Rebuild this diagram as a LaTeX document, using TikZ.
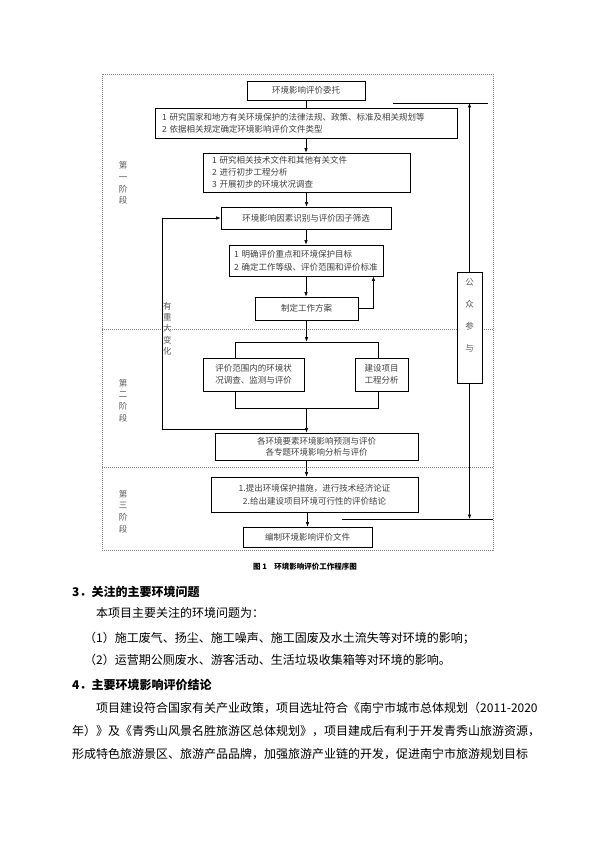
\documentclass[tikz,border=0pt]{standalone}
\usepackage{fontspec}
\setmainfont{Noto Sans CJK SC}
\usetikzlibrary{arrows.meta}
\begin{document}
\begin{tikzpicture}[x=1pt,y=-1pt,
  box/.style={draw,line width=.9pt,fill=white,text=black!75,font=\fontsize{8.5}{12}\selectfont,align=center,inner sep=0pt},
  arr/.style={-{Latex[length=4.5pt,width=3.5pt]},line width=.6pt},
  ln/.style={line width=.6pt},
  sep/.style={gray,dash pattern=on 1.2pt off .8pt,line width=.6pt},
  lbl/.style={text=black!65,font=\fontsize{8.5}{12}\selectfont,align=center,inner sep=0pt},
  body/.style={anchor=west,inner sep=0pt,font=\fontsize{12}{14}\selectfont},
  head/.style={anchor=west,inner sep=0pt,font=\fontsize{12}{14}\selectfont\bfseries}]
\useasboundingbox (0,0) rectangle (595,842);
\draw[sep] (102,74) rectangle (493,550);
\draw[sep] (102,329) -- (493,329);
\draw[sep] (102,467) -- (493,467);
\node[box,minimum width=118pt,minimum height=19pt] (wt) at (306,90.5) {环境影响评价委托};
\node[box,minimum height=30pt,text width=288pt,inner xsep=7pt,align=left] (fg) at (306,123) {1 研究国家和地方有关环境保护的法律法规、政策、标准及相关规划等\\2 依据相关规定确定环境影响评价文件类型};
\node[box,minimum height=39pt,text width=189pt,inner xsep=9pt,align=left] (cb) at (306.5,172.5) {1 研究相关技术文件和其他有关文件\\2 进行初步工程分析\\3 开展初步的环境状况调查};
\node[box,minimum width=170pt,minimum height=22pt] (sb) at (306,218) {环境影响因素识别与评价因子筛选};
\node[box,minimum height=31pt,text width=144pt,inner xsep=5pt,align=left,font=\fontsize{8.5}{13}\selectfont] (mq) at (306,260.5) {1~明确评价重点和环境保护目标\\2~确定工作等级、评价范围和评价标准};
\node[box,minimum width=103pt,minimum height=23pt] (fa) at (306.5,308.5) {制定工作方案};
\node[draw,ln,minimum width=143pt,minimum height=66pt,inner sep=0pt] (kj) at (306.5,375) {};
\node[box,minimum width=101pt,minimum height=33pt] (xz) at (253.5,374.5) {评价范围内的环境状\\况调查、监测与评价};
\node[box,minimum width=53pt,minimum height=33pt] (gc) at (381.5,374.5) {建设项目\\工程分析};
\node[box,minimum width=203pt,minimum height=27pt,font=\fontsize{8.5}{11}\selectfont] (yc) at (316.5,446.5) {各环境要素环境影响预测与评价\\各专题环境影响分析与评价};
\node[box,minimum width=207pt,minimum height=35pt,font=\fontsize{8.5}{13}\selectfont] (cs) at (314.5,494.5) {1.提出环境保护措施，进行技术经济论证\\2.给出建设项目环境可行性的评价结论};
\node[box,minimum width=129pt,minimum height=20pt] (bz) at (307.5,537) {编制环境影响评价文件};
\node[box,minimum width=25pt,minimum height=111pt] (gz) at (469.5,327.5) {};
\node[lbl,font=\fontsize{8.5}{22}\selectfont] (gzt) at (469.5,315) {公\\众\\参\\与};
\draw[ln] (wt.south) -- (fg.north);
\draw[arr] (fg.south) -- (fg.south |- cb.north);
\draw[arr] (cb.south) -- (cb.south |- sb.north);
\draw[arr] (sb.south) -- (mq.north);
\draw[arr] (mq.south) -- (mq.south |- fa.north);
\draw[arr] (fa.east) -| ([xshift=-10pt]mq.south east);
\draw[arr] (fa.south) -- (fa.south |- kj.north);
\coordinate (bd) at (162,429);
\draw[arr] (bd) |- (sb.west);
\draw[ln] (bd) -- (bd -| kj.south);
\draw[arr] (kj.south) -- (kj.south |- yc.north);
\draw[arr] (yc.south -| kj.south) -- (kj.south |- cs.north);
\draw[arr] (cs.south -| bz.north) -- (bz.north);
\coordinate (gl) at (393,103);
\coordinate (gr) at (488,103);
\draw[ln] (gl) -- (gr);
\draw[arr] (gz.north) -- (gz.north |- gl);
\coordinate (dl) at (342,519);
\coordinate (dr) at (493,519);
\draw[ln] (dl) -- (dr);
\draw[arr] (gz.south) -- (gz.south |- dl);
\node[lbl,font=\fontsize{8.5}{11.7}\selectfont] (s1) at (123,183) {第\\一\\阶\\段};
\node[lbl,font=\fontsize{8.5}{11.7}\selectfont] (s2) at (123,400.5) {第\\二\\阶\\段};
\node[lbl,font=\fontsize{8.5}{11.7}\selectfont] (s3) at (123,511.5) {第\\三\\阶\\段};
\node[lbl,anchor=west,font=\fontsize{8.5}{11.3}\selectfont] (zb) at (163,328.5) {有\\重\\大\\变\\化};
\node[font=\fontsize{7.5}{9}\selectfont\bfseries,inner sep=0pt] (tt) at (305,567) {图 1\quad 环境影响评价工作程序图};
\node[head] (h3) at (72,592) {3．关注的主要环境问题};
\node[body] (p0) at (96,613) {本项目主要关注的环境问题为：};
\node[body] (p1) at (84,638) {（1）施工废气、扬尘、施工噪声、施工固废及水土流失等对环境的影响；};
\node[body] (p2) at (84,660) {（2）运营期公厕废水、游客活动、生活垃圾收集箱等对环境的影响。};
\node[head] (h4) at (72,685) {4．主要环境影响评价结论};
\node[body] (q1) at (96,708) {项目建设符合国家有关产业政策，项目选址符合《南宁市城市总体规划（2011-2020};
\node[body] (q2) at (72,731) {年）》及《青秀山风景名胜旅游区总体规划》，项目建成后有利于开发青秀山旅游资源，};
\node[body] (q3) at (72,754) {形成特色旅游景区、旅游产品品牌，加强旅游产业链的开发，促进南宁市旅游规划目标};
\end{tikzpicture}
\end{document}
